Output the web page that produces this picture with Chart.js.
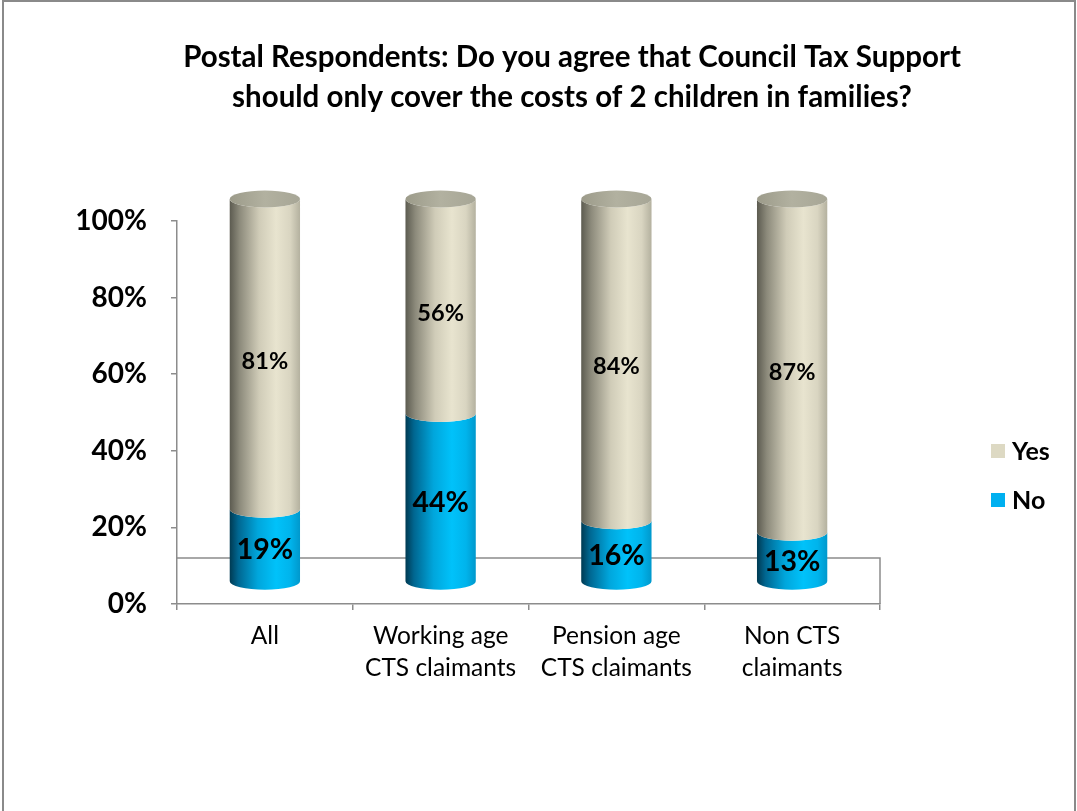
<!DOCTYPE html>
<html>
<head>
<meta charset="utf-8">
<title>Postal Respondents – Council Tax Support</title>
<script src="https://cdn.jsdelivr.net/npm/chart.js@4/dist/chart.umd.min.js"></script>
<style>
  html, body { margin: 0; padding: 0; background: #ffffff; }
  #wrap { width: 1077px; height: 811px; position: relative; }
  canvas { display: block; }
</style>
</head>
<body>
<div id="wrap"><canvas id="chart" width="1077" height="811"></canvas></div>
<script>
// ---- data ----
const categories = [
  'All',
  ['Working age', 'CTS claimants'],
  ['Pension age', 'CTS claimants'],
  ['Non CTS', 'claimants']
];
const seriesNames = ['No', 'Yes'];
const noValues  = [19, 44, 16, 13];
const yesValues = [81, 56, 84, 87];
const yTicks = [0, 20, 40, 60, 80, 100];
const titleLines = [
  'Postal Respondents: Do you agree that Council Tax Support',
  'should only cover the costs of 2 children in families?'
];

// ---- styling ----
const FONT = 'Lato, "Open Sans", "Liberation Sans", sans-serif';
const DEPTH = 22;        // vertical lift of the columns above the floor front edge
const FLOOR = 46;        // depth of the floor behind the axis line
const CAP_RY = 8.5;      // half-height of the elliptical ends

const palette = {
  No:  { legend: '#00B0F0',
         body: [[0, '#003a52'], [0.12, '#006690'], [0.4, '#00a6dc'], [0.66, '#00c2fa'], [0.86, '#00b4ec'], [1, '#0098cc']] },
  Yes: { legend: '#DDD9C3',
         body: [[0, '#5c5b50'], [0.14, '#8c8a7b'], [0.42, '#d0ccb8'], [0.66, '#e8e4cf'], [0.86, '#d9d5c1'], [1, '#b4b19f']],
         cap:  [[0, '#9c9b8a'], [0.5, '#b2b1a0'], [1, '#a7a696']] }
};

function gradient(ctx, x0, x1, stops) {
  const g = ctx.createLinearGradient(x0, 0, x1, 0);
  stops.forEach(s => g.addColorStop(s[0], s[1]));
  return g;
}

// one cylinder segment between top and bottom (pixel y), centred on x
function drawSegment(ctx, x, top, bottom, w, style, withCap) {
  const rx = w / 2, l = x - rx, r = x + rx;
  ctx.save();
  ctx.beginPath();
  ctx.moveTo(l, top);
  ctx.lineTo(l, bottom);
  ctx.ellipse(x, bottom, rx, CAP_RY, 0, Math.PI, 0, true);
  ctx.lineTo(r, top);
  ctx.ellipse(x, top, rx, CAP_RY, 0, 0, Math.PI, false);
  ctx.closePath();
  ctx.fillStyle = gradient(ctx, l, r, style.body);
  ctx.fill();
  if (withCap) {
    ctx.beginPath();
    ctx.ellipse(x, top, rx, CAP_RY, 0, 0, Math.PI * 2);
    ctx.fillStyle = gradient(ctx, l, r, style.cap);
    ctx.fill();
  }
  ctx.restore();
}

// floor outline behind the columns
const floorPlugin = {
  id: 'floor',
  beforeDatasetsDraw(chart) {
    const { ctx, chartArea } = chart;
    const y0 = chart.scales.y.getPixelForValue(0);
    ctx.save();
    ctx.strokeStyle = '#8c8c8c';
    ctx.lineWidth = 1.5;
    ctx.beginPath();
    ctx.moveTo(chartArea.left, y0 - FLOOR);
    ctx.lineTo(chartArea.right, y0 - FLOOR);
    ctx.lineTo(chartArea.right, y0);
    ctx.stroke();
    ctx.restore();
  }
};

// columns drawn as cylinders from the bar elements, plus value labels
const cylinderPlugin = {
  id: 'cylinders',
  afterDatasetsDraw(chart) {
    const { ctx } = chart;
    const metaNo = chart.getDatasetMeta(0);
    const metaYes = chart.getDatasetMeta(1);
    metaNo.data.forEach((barNo, i) => {
      const barYes = metaYes.data[i];
      const w = barNo.width;
      const noTop = barNo.y - DEPTH, noBase = barNo.base - DEPTH;
      const yesTop = barYes.y - DEPTH, yesBase = barYes.base - DEPTH;
      drawSegment(ctx, barNo.x, noTop, noBase, w, palette.No, false);
      drawSegment(ctx, barYes.x, yesTop, yesBase, w, palette.Yes, true);

      ctx.save();
      ctx.fillStyle = '#000';
      ctx.textAlign = 'center';
      ctx.textBaseline = 'middle';
      ctx.font = 'bold 28.5px ' + FONT;
      ctx.fillText(noValues[i] + '%', barNo.x, (noTop + noBase) / 2 + 5);
      ctx.font = 'bold 23.5px ' + FONT;
      ctx.fillText(yesValues[i] + '%', barYes.x, (yesTop + yesBase) / 2 + 7);
      ctx.restore();
    });
  }
};

// title, legend and outer frame
const decorPlugin = {
  id: 'decor',
  afterDraw(chart) {
    const { ctx } = chart;
    ctx.save();
    ctx.strokeStyle = '#8a8a8a';
    ctx.lineWidth = 2;
    ctx.strokeRect(3, 1, 1072, 830);

    ctx.fillStyle = '#000';
    ctx.textAlign = 'center';
    ctx.textBaseline = 'middle';
    ctx.font = 'bold 29.5px ' + FONT;
    ctx.fillText(titleLines[0], 572, 57);
    ctx.fillText(titleLines[1], 572, 97);

    const legendRows = [
      { name: 'Yes', y: 451 },
      { name: 'No', y: 500 }
    ];
    ctx.textAlign = 'left';
    ctx.font = 'bold 25px ' + FONT;
    legendRows.forEach(row => {
      ctx.fillStyle = palette[row.name].legend;
      ctx.fillRect(991, row.y - 7, 14, 14);
      ctx.fillStyle = '#000';
      ctx.fillText(row.name, 1012, row.y + 1);
    });
    ctx.restore();
  }
};

new Chart(document.getElementById('chart'), {
  type: 'bar',
  data: {
    labels: categories,
    datasets: [
      { label: seriesNames[0], data: noValues, backgroundColor: 'rgba(0,0,0,0)', borderWidth: 0 },
      { label: seriesNames[1], data: yesValues, backgroundColor: 'rgba(0,0,0,0)', borderWidth: 0 }
    ]
  },
  options: {
    responsive: false,
    animation: false,
    devicePixelRatio: 1,
    layout: { padding: { left: 0, top: 221, right: 197, bottom: 0 } },
    datasets: { bar: { categoryPercentage: 1, barPercentage: 0.4 } },
    plugins: {
      legend: { display: false },
      title: { display: false },
      tooltip: { enabled: false }
    },
    scales: {
      x: {
        stacked: true,
        border: { display: true, color: '#8c8c8c', width: 1.5 },
        grid: { drawOnChartArea: false, drawTicks: true, tickLength: 6, color: '#8c8c8c', lineWidth: 1.5 },
        ticks: { color: '#000', padding: 11, maxRotation: 0, autoSkip: false,
                 font: { family: FONT, size: 24.5, lineHeight: 1.27 } },
        afterFit(scale) { scale.height = 207; }
      },
      y: {
        stacked: true,
        min: 0,
        max: 100,
        afterBuildTicks(scale) { scale.ticks = yTicks.map(v => ({ value: v })); },
        border: { display: true, color: '#8c8c8c', width: 1.5 },
        grid: { drawOnChartArea: false, drawTicks: true, tickLength: 6, color: '#8c8c8c', lineWidth: 1.5 },
        ticks: { color: '#000', padding: 24, callback: v => v + '%',
                 font: { family: FONT, size: 28, weight: 'bold' } },
        afterFit(scale) { scale.width = 177; }
      }
    }
  },
  plugins: [floorPlugin, cylinderPlugin, decorPlugin]
});
</script>
</body>
</html>
